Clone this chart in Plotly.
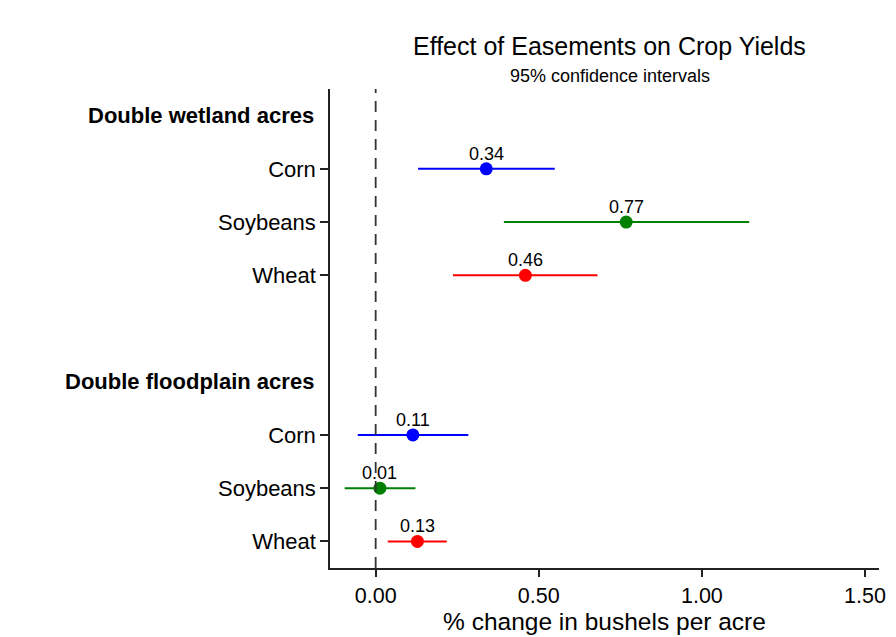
import plotly.graph_objects as go

# ---- data ----
groups = ["Double wetland acres", "Double floodplain acres"]
crops = ["Corn", "Soybeans", "Wheat"]
colors = ["#0000FF", "#008000", "#FF0000"]

wet_est = [0.339, 0.768, 0.459]
wet_lo = [0.130, 0.393, 0.237]
wet_hi = [0.549, 1.145, 0.680]

flood_est = [0.114, 0.013, 0.128]
flood_lo = [-0.055, -0.095, 0.037]
flood_hi = [0.284, 0.122, 0.218]

x_ticks = [0.0, 0.5, 1.0, 1.5]
x_tick_labels = ["0.00", "0.50", "1.00", "1.50"]

title = "Effect of Easements on Crop Yields"
subtitle = "95% confidence intervals"
x_title = "% change in bushels per acre"

FONT = "Liberation Sans, Arial, sans-serif"

# row layout: header, 3 crops, blank, header, 3 crops
wet_rows = [1, 2, 3]
flood_rows = [6, 7, 8]
header_rows = [0, 5]

fig = go.Figure()

for est, lo, hi, rows in [(wet_est, wet_lo, wet_hi, wet_rows),
                          (flood_est, flood_lo, flood_hi, flood_rows)]:
    for i in range(3):
        fig.add_trace(go.Scatter(
            x=[lo[i], hi[i]], y=[rows[i], rows[i]], mode="lines",
            line=dict(color=colors[i], width=2), showlegend=False,
            hoverinfo="skip"))
        fig.add_trace(go.Scatter(
            x=[est[i]], y=[rows[i]], mode="markers",
            marker=dict(color=colors[i], size=13),
            showlegend=False))
        fig.add_annotation(text=f"{est[i]:.2f}", x=est[i], y=rows[i],
                           xref="x", yref="y", xanchor="center", yanchor="middle",
                           yshift=15, showarrow=False,
                           font=dict(family=FONT, size=18, color="#000000"))

# zero reference line
fig.add_shape(type="line", xref="x", yref="paper", x0=0, x1=0, y0=0, y1=1,
              line=dict(color="#333333", width=1.8, dash="11px,8px"), layer="above")

# group headers
for g, r in zip(groups, header_rows):
    fig.add_annotation(text=f"<b>{g}</b>", xref="paper", x=0, xanchor="right",
                       xshift=-14, yref="y", y=r, yanchor="middle",
                       showarrow=False, font=dict(family=FONT, size=22, color="#000000"))

# title & subtitle
fig.add_annotation(text=title, xref="paper", x=0.51, xanchor="center",
                   yref="paper", y=1.090, yanchor="middle", showarrow=False,
                   font=dict(family=FONT, size=25, color="#000000"))
fig.add_annotation(text=subtitle, xref="paper", x=0.51, xanchor="center",
                   yref="paper", y=1.027, yanchor="middle", showarrow=False,
                   font=dict(family=FONT, size=18, color="#000000"))

fig.update_layout(
    width=896, height=637,
    margin=dict(l=322, r=25, t=81, b=77),
    paper_bgcolor="white", plot_bgcolor="white",
    font=dict(family=FONT, color="#000000"),
    xaxis=dict(
        range=[-0.14, 1.543], tickvals=x_ticks, ticktext=x_tick_labels,
        showgrid=False, zeroline=False, showline=True, linecolor="#222222",
        linewidth=1.5, ticks="outside", ticklen=7, tickwidth=1.5, tickcolor="#222222",
        tickfont=dict(family=FONT, size=21.5, color="#000000"),
        title=dict(text=x_title, font=dict(family=FONT, size=24.5, color="#000000"),
                   standoff=4),
    ),
    yaxis=dict(
        range=[8.5, -0.5], tickvals=wet_rows + flood_rows, ticktext=crops + crops,
        showgrid=False, zeroline=False, showline=True, linecolor="#222222",
        linewidth=1.5, ticks="outside", ticklen=8, tickwidth=1.5, tickcolor="#222222",
        tickfont=dict(family=FONT, size=22, color="#000000"),
    ),
)

fig.write_html("out.html")
